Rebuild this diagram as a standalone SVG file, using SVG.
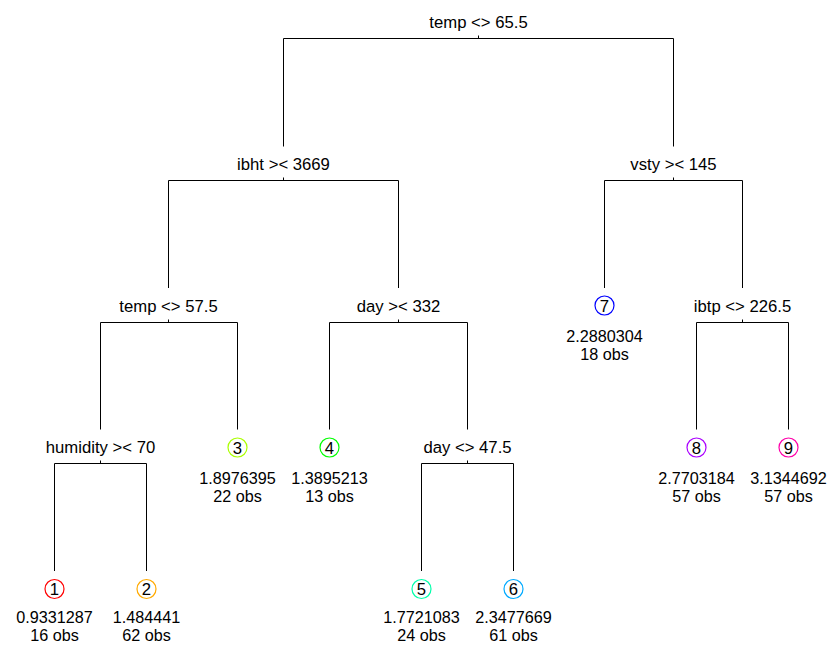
<svg xmlns="http://www.w3.org/2000/svg" width="827" height="645" viewBox="0 0 827 645">
<style>
text{font-family:"Liberation Sans",Arial,Helvetica,sans-serif;font-size:16.7px;fill:#000;text-anchor:middle}
text.v{font-size:16.2px}
.e{stroke:#000;stroke-width:1;fill:none}
circle{fill:none;stroke-width:1.2}
</style>
<rect width="827" height="645" fill="#fff"/>
<g id="connectors" class="e">
<path d="M283.5,146.5V38.5H673.5V146.5M478.5,38.5V35.5"/>
<path d="M168.5,288V180.5H398.5V288M283.5,180.5V177.5"/>
<path d="M604.5,288V180.5H742.5V288M673.5,180.5V177.5"/>
<path d="M100.5,429.5V322.5H237.5V429.5M168.5,322.5V319.5"/>
<path d="M329.5,429.5V322.5H467.5V429.5M398.5,322.5V319.5"/>
<path d="M696.5,429.5V322.5H788.5V429.5M742.5,322.5V319.5"/>
<path d="M54.5,571V463.5H146.5V571M100.5,463.5V460.5"/>
<path d="M421.5,571V463.5H513.5V571M467.5,463.5V460.5"/>
</g>
<g id="n-root"><text x="478.5" y="27.5">temp &lt;&gt; 65.5</text></g>
<g id="n-ibht"><text x="283.5" y="169.5">ibht &gt;&lt; 3669</text></g>
<g id="n-vsty"><text x="673.5" y="169.5">vsty &gt;&lt; 145</text></g>
<g id="n-temp2"><text x="168.5" y="311.5">temp &lt;&gt; 57.5</text></g>
<g id="n-day332"><text x="398.5" y="311.5">day &gt;&lt; 332</text></g>
<g id="n-ibtp"><text x="742.5" y="311.5">ibtp &lt;&gt; 226.5</text></g>
<g id="n-humidity"><text x="100.5" y="452.5">humidity &gt;&lt; 70</text></g>
<g id="n-day47"><text x="467.5" y="452.5">day &lt;&gt; 47.5</text></g>
<g id="leaf1"><circle cx="54.5" cy="589" r="9.5" stroke="#FF0000"/><text x="54.5" y="595">1</text><text class="v" x="54.5" y="622.7">0.9331287</text><text class="v" x="54.5" y="641">16 obs</text></g>
<g id="leaf2"><circle cx="146.5" cy="589" r="9.5" stroke="#FFAA00"/><text x="146.5" y="595">2</text><text class="v" x="146.5" y="622.7">1.484441</text><text class="v" x="146.5" y="641">62 obs</text></g>
<g id="leaf3"><circle cx="237.5" cy="447.5" r="9.5" stroke="#AAFF00"/><text x="237.5" y="453.5">3</text><text class="v" x="237.5" y="484">1.8976395</text><text class="v" x="237.5" y="502.3">22 obs</text></g>
<g id="leaf4"><circle cx="329.5" cy="447.5" r="9.5" stroke="#00FF00"/><text x="329.5" y="453.5">4</text><text class="v" x="329.5" y="484">1.3895213</text><text class="v" x="329.5" y="502.3">13 obs</text></g>
<g id="leaf5"><circle cx="421.5" cy="589" r="9.5" stroke="#00FFAA"/><text x="421.5" y="595">5</text><text class="v" x="421.5" y="622.7">1.7721083</text><text class="v" x="421.5" y="641">24 obs</text></g>
<g id="leaf6"><circle cx="513.5" cy="589" r="9.5" stroke="#00AAFF"/><text x="513.5" y="595">6</text><text class="v" x="513.5" y="622.7">2.3477669</text><text class="v" x="513.5" y="641">61 obs</text></g>
<g id="leaf7"><circle cx="604.5" cy="305.5" r="9.5" stroke="#0000FF"/><text x="604.5" y="311.5">7</text><text class="v" x="604.5" y="342">2.2880304</text><text class="v" x="604.5" y="360.3">18 obs</text></g>
<g id="leaf8"><circle cx="696.5" cy="447.5" r="9.5" stroke="#AA00FF"/><text x="696.5" y="453.5">8</text><text class="v" x="696.5" y="484">2.7703184</text><text class="v" x="696.5" y="502.3">57 obs</text></g>
<g id="leaf9"><circle cx="788.5" cy="447.5" r="9.5" stroke="#FF00AA"/><text x="788.5" y="453.5">9</text><text class="v" x="788.5" y="484">3.1344692</text><text class="v" x="788.5" y="502.3">57 obs</text></g>
</svg>
